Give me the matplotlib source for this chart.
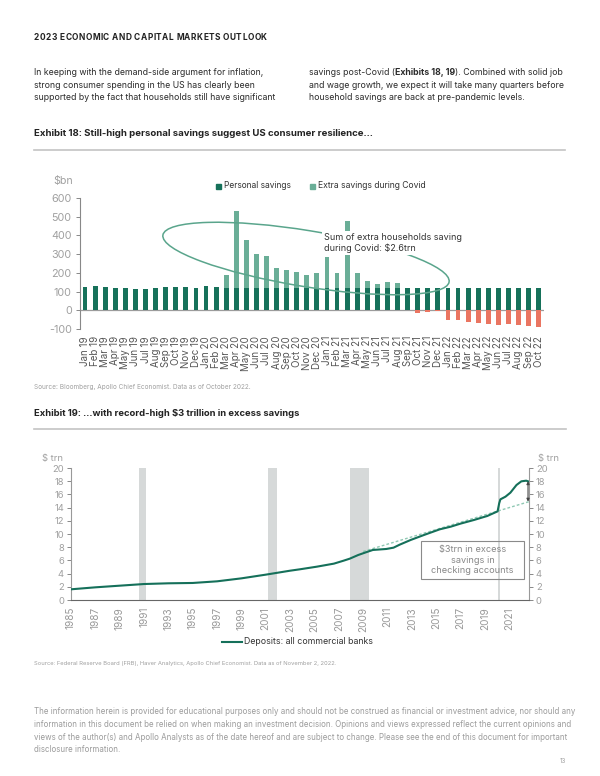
import matplotlib
matplotlib.use("Agg")
import matplotlib.pyplot as plt
from matplotlib.patches import Ellipse, Rectangle
from matplotlib.lines import Line2D

plt.rcParams['font.family'] = ['Inter', 'DejaVu Sans']
plt.rcParams['axes.unicode_minus'] = False

# ---------------- data: Exhibit 18 ----------------
months = ["Jan 19", "Feb 19", "Mar 19", "Apr 19", "May 19", "Jun 19", "Jul 19", "Aug 19",
          "Sep 19", "Oct 19", "Nov 19", "Dec 19",
          "Jan 20", "Feb 20", "Mar 20", "Apr 20", "May 20", "Jun 20", "Jul 20", "Aug 20",
          "Sep 20", "Oct 20", "Nov 20", "Dec 20",
          "Jan 21", "Feb 21", "Mar 21", "Apr 21", "May 21", "Jun 21", "Jul 21", "Aug 21",
          "Sep 21", "Oct 21", "Nov 21", "Dec 21",
          "Jan 22", "Feb 22", "Mar 22", "Apr 22", "May 22", "Jun 22", "Jul 22", "Aug 22",
          "Sep 22", "Oct 22"]
personal_savings = [125, 128, 123, 121, 118, 116, 114, 120, 123, 125, 125, 118,
                    128, 123, 120, 120, 120, 120, 120, 120, 120, 120, 120, 120,
                    120, 120, 120, 120, 120, 120, 120, 120, 120, 120, 120, 120,
                    120, 120, 120, 120, 120, 120, 120, 120, 120, 120]
extra_savings = [0, 0, 0, 0, 0, 0, 0, 0, 0, 0, 0, 0,
                 0, 0, 67, 411, 254, 183, 169, 106, 94, 85, 71, 80,
                 165, 80, 358, 80, 37, 19, 32, 26, 0, 0, 0, 0,
                 0, 0, 0, 0, 0, 0, 0, 0, 0, 0]
savings_shortfall = [0, 0, 0, 0, 0, 0, 0, 0, 0, 0, 0, 0,
                     0, 0, 0, 0, 0, 0, 0, 0, 0, 0, 0, 0,
                     0, 0, 0, 0, 0, 0, 0, 0, 0, -12, -10, -5,
                     -50, -54, -64, -68, -71, -80, -75, -79, -84, -87]
top_yticks = [-100, 0, 100, 200, 300, 400, 500, 600]

# ---------------- data: Exhibit 19 ----------------
dep_year = [1985.0, 1987.0, 1989.0, 1991.0, 1993.0, 1995.0, 1997.0, 1999.0, 2001.0, 2003.0,
            2003.8, 2005.2, 2006.6, 2007.4, 2007.9, 2008.6, 2009.3, 2009.8, 2010.9, 2011.5,
            2012.0, 2012.9, 2014.0, 2015.3, 2016.2, 2017.0, 2018.1, 2019.2, 2020.05, 2020.18,
            2020.28, 2020.7, 2021.1, 2021.6, 2022.0, 2022.4, 2022.63]
dep_value = [1.62, 1.92, 2.17, 2.42, 2.53, 2.58, 2.83, 3.28, 3.84, 4.44,
             4.65, 5.05, 5.51, 5.96, 6.26, 6.82, 7.27, 7.58, 7.73, 7.93,
             8.38, 9.09, 9.85, 10.71, 11.11, 11.57, 12.12, 12.73, 13.43, 14.65,
             15.25, 15.66, 16.26, 17.42, 17.98, 18.08, 17.93]
trend_year = [2009.0, 2022.63]
trend_value = [7.35, 14.9]
recessions = [(1990.55, 1991.2), (2001.2, 2001.9), (2007.95, 2009.45), (2020.05, 2020.25)]
year_ticks = list(range(1985, 2022, 2))
trn_ticks = list(range(0, 21, 2))

# ---------------- colours ----------------
DARK = "#16715a"
LIGHT = "#6aae97"
RED = "#ea7561"
LINE = "#15705a"
TREND = "#8fc8b3"
SHADE = "#d6d9d9"
TXT = "#2b2b2b"

W, H = 600, 776
fig = plt.figure(figsize=(W / 100, H / 100), dpi=100)
R = fig.canvas.get_renderer()


def fx(x):
    return x / W


def fy(y):
    return 1 - y / H


def put(x, y, s, size=7, target=None, va='center', **kw):
    t = fig.text(fx(x), fy(y), s, fontsize=size, va=va, **kw)
    if target is not None:
        w = t.get_window_extent(renderer=R).width
        t.set_fontsize(size * target / w)
    return t


def runs(x, y, parts, size, **kw):
    for s, wt in parts:
        t = fig.text(fx(x), fy(y), s, fontsize=size, fontweight=wt, va='center', **kw)
        x += t.get_window_extent(renderer=R).width


def tracked(x0, x1, y, s, size, **kw):
    """Letter-spaced text spanning x0..x1 (page header style)."""
    widths = []
    arts = []
    for ch in s:
        t = fig.text(fx(x0), fy(y), ch, fontsize=size, va='center', **kw)
        widths.append(t.get_window_extent(renderer=R).width if ch != ' ' else size * 0.3)
        arts.append(t)
    gap = (x1 - x0 - sum(widths)) / (len(s) - 1)
    x = x0
    for t, w in zip(arts, widths):
        t.set_x(fx(x))
        x += w + gap


def hrule(x0, x1, y, **kw):
    fig.add_artist(Line2D([fx(x0), fx(x1)], [fy(y), fy(y)], transform=fig.transFigure, **kw))


# ---------------- page text ----------------
tracked(34, 267, 37, "2023 ECONOMIC AND CAPITAL MARKETS OUTLOOK", 6.0,
        fontweight='bold', color='#222')

body = put(34, 85, "strong consumer spending in the US has clearly been", size=6.5, target=223,
           color=TXT)
bs = body.get_fontsize()
put(34, 72.5, "In keeping with the demand-side argument for inflation,", size=bs, color=TXT)
put(34, 97.5, "supported by the fact that households still have significant", size=bs, color=TXT)
runs(309, 72.5, [("savings post-Covid (", 'normal'), ("Exhibits 18, 19", 'bold'),
                 ("). Combined with solid job", 'normal')], bs, color=TXT)
put(309, 85, "and wage growth, we expect it will take many quarters before", size=bs, color=TXT)
put(309, 97.5, "household savings are back at pre-pandemic levels.", size=bs, color=TXT)

put(34, 134, "Exhibit 18: Still-high personal savings suggest US consumer resilience...",
    size=7, target=338, fontweight='bold', color='#222')
hrule(34, 565, 150, color='#c4c4c4', lw=1.2)
put(34, 413, "Exhibit 19: ...with record-high $3 trillion in excess savings",
    size=7, target=266, fontweight='bold', color='#222')
hrule(34, 566, 429, color='#c4c4c4', lw=1.2)

put(34, 387, "Source: Bloomberg, Apollo Chief Economist. Data as of October 2022.",
    size=4.5, target=216, color='#a0a0a0')
put(34, 663, "Source: Federal Reserve Board (FRB), Haver Analytics, Apollo Chief Economist. "
    "Data as of November 2, 2022.", size=4.5, target=303, color='#a0a0a0')

d1 = put(34, 712, "The information herein is provided for educational purposes only and should not "
         "be construed as financial or investment advice, nor should any",
         size=6, target=532, color='#9b9b9b')
ds = d1.get_fontsize()
put(34, 724.5, "information in this document be relied on when making an investment decision. "
    "Opinions and views expressed reflect the current opinions and", size=ds, color='#9b9b9b')
put(34, 737, "views of the author(s) and Apollo Analysts as of the date hereof and are subject to "
    "change. Please see the end of this document for important", size=ds, color='#9b9b9b')
put(34, 749.5, "disclosure information.", size=ds, color='#9b9b9b')
put(566, 761, "13", size=4.5, color='#a0a0a0', ha='right')

# ---------------- Exhibit 18 chart ----------------
ax1 = fig.add_axes([fx(80), fy(329), (543.7 - 80) / W, (329 - 198) / H])
x = list(range(len(months)))
ax1.bar(x, personal_savings, width=0.48, color=DARK, zorder=2)
ax1.bar(x, extra_savings, width=0.48, bottom=personal_savings, color=LIGHT, zorder=2)
ax1.bar(x, savings_shortfall, width=0.48, color=RED, zorder=2)
ax1.axhline(0, color='#9c9c9c', lw=0.9, zorder=1)
ax1.set_xlim(-0.5, len(months) - 0.5)
ax1.set_ylim(-100, 600)
ax1.set_yticks(top_yticks)
ax1.set_xticks(x)
ax1.set_xticklabels(months, rotation=90, fontsize=7.0, color='#555')
ax1.tick_params(axis='x', length=0, pad=5)
ax1.tick_params(axis='y', length=3, width=0.7, color='#888', labelsize=7.8,
                labelcolor='#a0a0a0', pad=3)
for s in ['top', 'right', 'bottom']:
    ax1.spines[s].set_visible(False)
ax1.spines['left'].set_color('#888')
ax1.spines['left'].set_linewidth(0.8)
ax1.patch.set_alpha(0)

put(53, 181, "$bn", size=7.6, color='#a0a0a0')
fig.add_artist(Rectangle((fx(216), fy(188.5)), 5 / W, 5 / H, transform=fig.transFigure,
                         color=DARK))
put(224, 186, "Personal savings", size=6.5, target=68, color='#333')
fig.add_artist(Rectangle((fx(310), fy(188.5)), 5 / W, 5 / H, transform=fig.transFigure,
                         color=LIGHT))
put(318, 186, "Extra savings during Covid", size=6.5, target=110, color='#333')

ell = Ellipse((3.06, (H - 258.5) / 100), 2.90, 0.56, angle=-9.3,
              transform=fig.dpi_scale_trans, fill=False, ec='#5aa58c', lw=1.1, zorder=5)
fig.add_artist(ell)
put(324, 243, "Sum of extra households saving\nduring Covid: $2.6trn", size=6.5,
    color='#333', linespacing=1.25, zorder=6,
    bbox=dict(facecolor='white', edgecolor='none', pad=1.5))

# ---------------- Exhibit 19 chart ----------------
ax2 = fig.add_axes([fx(71), fy(600), (529 - 71) / W, (600 - 468) / H])
for a, b in recessions:
    ax2.axvspan(a, b, color=SHADE, lw=0, zorder=0)
ax2.plot(trend_year, trend_value, color=TREND, lw=1.0, ls=(0, (2, 1.5)), zorder=2)
ax2.plot(dep_year, dep_value, color=LINE, lw=1.5, zorder=3)
ax2.set_xlim(1985, 2022.63)
ax2.set_ylim(0, 20)
ax2.set_yticks(trn_ticks)
ax2.set_xticks(year_ticks)
ax2.set_xticklabels([str(v) for v in year_ticks], rotation=90, fontsize=7.2, color='#999')
ax2.tick_params(axis='x', length=0, pad=5)
ax2.tick_params(axis='y', length=3, width=0.7, color='#888', labelsize=6.8,
                labelcolor='#a0a0a0', pad=2)
ax2.spines['top'].set_visible(False)
ax2.spines['left'].set_color('#999')
ax2.spines['right'].set_color('#999')
ax2.spines['bottom'].set_color('#666')
for s in ['left', 'right', 'bottom']:
    ax2.spines[s].set_linewidth(0.8)
ax2.tick_params(axis='y', right=True, labelright=True)

ax2.add_patch(Rectangle((2013.76, 3.18), 8.46, 5.76, fill=False, ec='#8a8a8a', lw=0.8,
                        zorder=4))
ax2.text((2013.76 + 2022.22) / 2, 6.06, "$3trn in excess\nsavings in\nchecking accounts",
         ha='center', va='center', fontsize=6.6, color='#888', linespacing=1.2, zorder=5)
ax2.annotate('', xy=(2022.55, 14.9), xytext=(2022.55, 18.0),
             arrowprops=dict(arrowstyle='<|-|>', color='#444', lw=0.8, mutation_scale=4,
                             shrinkA=0, shrinkB=0), zorder=6)

put(42, 458, "$ trn", size=6.8, color='#a0a0a0')
put(538, 458, "$ trn", size=6.8, color='#a0a0a0')

hrule(222, 242, 642, color=LINE, lw=1.5)
put(244, 642, "Deposits: all commercial banks", size=7, target=129, color='#333')

fig.savefig("out.png", dpi=100)
